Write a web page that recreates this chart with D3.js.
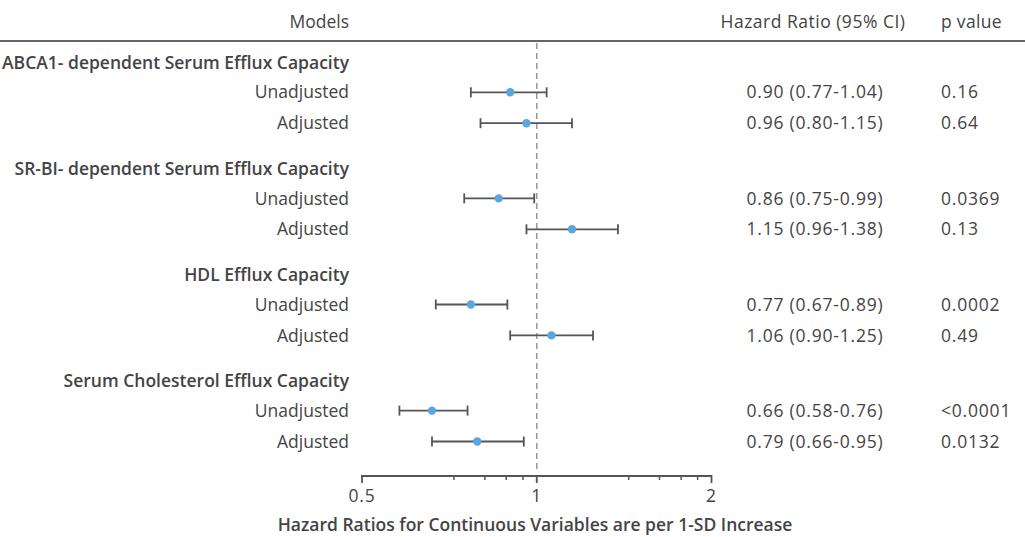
<!DOCTYPE html>
<html>
<head>
<meta charset="utf-8">
<script src="https://cdn.jsdelivr.net/npm/d3@7"></script>
<style>
  body { margin: 0; background: #fff; }
  text { font-family: "Open Sans", "Noto Sans", sans-serif; fill: #444; font-size: 17.5px; }
  .num { letter-spacing: 0.8px; }
</style>
</head>
<body>
<div id="wrapper"></div>
<script>
// data
const groups = [
  "ABCA1- dependent Serum Efflux Capacity",
  "SR-BI- dependent Serum Efflux Capacity",
  "HDL Efflux Capacity",
  "Serum Cholesterol Efflux Capacity"
]
const models = ["Unadjusted", "Adjusted"]
const hr    = [0.90, 0.96, 0.86, 1.15, 0.77, 1.06, 0.66, 0.79]
const lower = [0.77, 0.80, 0.75, 0.96, 0.67, 0.90, 0.58, 0.66]
const upper = [1.04, 1.15, 0.99, 1.38, 0.89, 1.25, 0.76, 0.95]
const hrLabels = [
  "0.90 (0.77-1.04)", "0.96 (0.80-1.15)",
  "0.86 (0.75-0.99)", "1.15 (0.96-1.38)",
  "0.77 (0.67-0.89)", "1.06 (0.90-1.25)",
  "0.66 (0.58-0.76)", "0.79 (0.66-0.95)"
]
const pLabels = ["0.16", "0.64", "0.0369", "0.13", "0.0002", "0.49", "<0.0001", "0.0132"]
const majorTicks = [0.5, 1, 2]
const minorTicks = [0.72, 0.814, 0.886, 0.947, 1.44, 1.627, 1.773, 1.893]

async function drawForest() {
  const rows = hr.map((d, i) => ({
    group: groups[Math.floor(i / 2)],
    model: models[i % 2],
    hr: d,
    lo: lower[i],
    hi: upper[i],
    hrLabel: hrLabels[i],
    p: pLabels[i]
  }))

  const dim = { width: 1025, height: 537 }

  const wrapper = d3.select("#wrapper")
    .append("svg")
    .attr("width", dim.width)
    .attr("height", dim.height)

  // scales
  const x_scale = d3.scaleLog()
    .base(2)
    .domain([0.5, 2])
    .range([362, 711.5])

  const group_scale = d3.scaleBand()
    .domain(groups)
    .range([46, 46 + 4 * 106.1])

  const row_offset = { heading: 17, Unadjusted: 46.3, Adjusted: 77.2 }
  const y_of = (g, key) => group_scale(g) + row_offset[key]

  const labelX = 349

  // header
  wrapper.append("text")
    .attr("x", labelX).attr("y", 28)
    .attr("text-anchor", "end")
    .style("font-weight", 500)
    .text("Models")
  wrapper.append("text")
    .attr("x", 813).attr("y", 28)
    .attr("text-anchor", "middle")
    .style("font-weight", 500)
    .style("letter-spacing", "0.5px")
    .text("Hazard Ratio (95% CI)")
  wrapper.append("text")
    .attr("x", 941).attr("y", 28)
    .style("font-weight", 500)
    .style("letter-spacing", "0.3px")
    .text("p value")

  wrapper.append("line")
    .attr("x1", 0).attr("x2", dim.width)
    .attr("y1", 41).attr("y2", 41)
    .attr("stroke", "#666")
    .attr("stroke-width", 2)

  // reference line at HR = 1
  wrapper.append("line")
    .attr("x1", x_scale(1)).attr("x2", x_scale(1))
    .attr("y1", 43).attr("y2", 473)
    .attr("stroke", "#999")
    .attr("stroke-width", 1.6)
    .attr("stroke-dasharray", "6,4")

  // group headings
  wrapper.selectAll(".heading")
    .data(groups)
    .join("text")
    .attr("class", "heading")
    .attr("x", labelX)
    .attr("y", d => y_of(d, "heading"))
    .attr("dy", "0.35em")
    .attr("text-anchor", "end")
    .style("font-weight", 600)
    .text(d => d)

  // model labels
  wrapper.selectAll(".model")
    .data(rows)
    .join("text")
    .attr("class", "model")
    .attr("x", labelX)
    .attr("y", d => y_of(d.group, d.model))
    .attr("dy", "0.35em")
    .attr("text-anchor", "end")
    .text(d => d.model)

  // CI lines and caps
  const ci = wrapper.selectAll(".ci")
    .data(rows)
    .join("g")
    .attr("class", "ci")
    .attr("transform", d => `translate(0, ${y_of(d.group, d.model)})`)

  ci.append("line")
    .attr("x1", d => x_scale(d.lo)).attr("x2", d => x_scale(d.hi))
    .attr("stroke", "#555").attr("stroke-width", 1.8)
  ci.append("line")
    .attr("x1", d => x_scale(d.lo)).attr("x2", d => x_scale(d.lo))
    .attr("y1", -5).attr("y2", 5)
    .attr("stroke", "#555").attr("stroke-width", 1.8)
  ci.append("line")
    .attr("x1", d => x_scale(d.hi)).attr("x2", d => x_scale(d.hi))
    .attr("y1", -5).attr("y2", 5)
    .attr("stroke", "#555").attr("stroke-width", 1.8)
  ci.append("circle")
    .attr("cx", d => x_scale(d.hr))
    .attr("r", 4.2)
    .attr("fill", "#5ba6dc")

  // HR text and p values
  wrapper.selectAll(".hrtext")
    .data(rows)
    .join("text")
    .attr("class", "hrtext num")
    .attr("x", 815)
    .attr("y", d => y_of(d.group, d.model))
    .attr("dy", "0.35em")
    .attr("text-anchor", "middle")
    .text(d => d.hrLabel)

  wrapper.selectAll(".ptext")
    .data(rows)
    .join("text")
    .attr("class", "ptext num")
    .attr("x", 941)
    .attr("y", d => y_of(d.group, d.model))
    .attr("dy", "0.35em")
    .text(d => d.p)

  // x axis
  const axis = wrapper.append("g")
    .attr("transform", "translate(0, 476)")

  axis.append("line")
    .attr("x1", x_scale(0.5)).attr("x2", x_scale(2))
    .attr("stroke", "#555").attr("stroke-width", 1.8)

  axis.selectAll(".minor")
    .data(minorTicks)
    .join("line")
    .attr("class", "minor")
    .attr("x1", d => x_scale(d)).attr("x2", d => x_scale(d))
    .attr("y1", 0).attr("y2", 4)
    .attr("stroke", "#555").attr("stroke-width", 1.5)

  axis.selectAll(".major")
    .data(majorTicks)
    .join("line")
    .attr("class", "major")
    .attr("x1", d => x_scale(d)).attr("x2", d => x_scale(d))
    .attr("y1", -1).attr("y2", 7)
    .attr("stroke", "#555").attr("stroke-width", 1.8)

  axis.selectAll(".ticklabel")
    .data(majorTicks)
    .join("text")
    .attr("class", "ticklabel num")
    .attr("x", d => x_scale(d))
    .attr("y", 26)
    .attr("text-anchor", "middle")
    .text(d => d3.format("")(d))

  wrapper.append("text")
    .attr("x", 535).attr("y", 531)
    .attr("text-anchor", "middle")
    .style("font-weight", 600)
    .text("Hazard Ratios for Continuous Variables are per 1-SD Increase")
}
drawForest()
</script>
</body>
</html>
